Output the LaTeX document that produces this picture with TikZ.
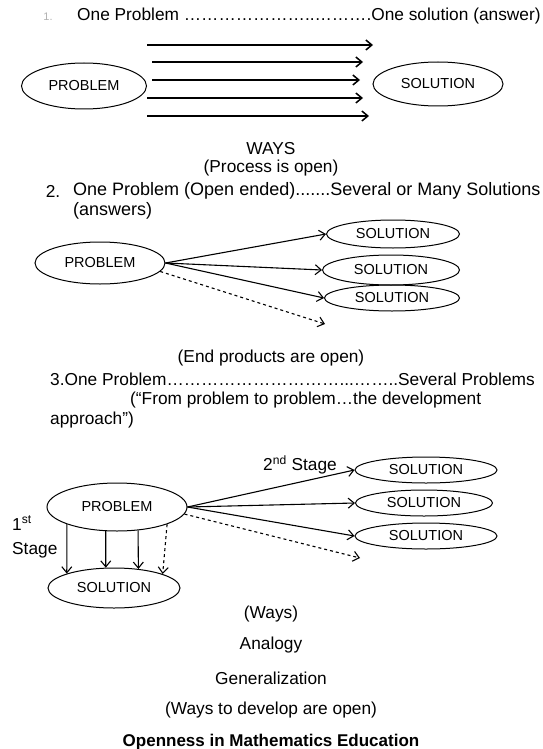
\documentclass[tikz,border=0pt]{standalone}
\usepackage{fontspec}
\setmainfont{Liberation Sans}
\usetikzlibrary{positioning,shapes.geometric,arrows.meta}
\newcommand{\manydots}[1]{\foreach \k in {1,...,#1}{…}}
\begin{document}
\begin{tikzpicture}[x=1pt,y=-1pt,
	oval/.style={
		ellipse,draw,line width=1pt,inner sep=0pt,
		font=\fontsize{14.5}{17}\selectfont},
	words/.style={
		inner sep=0pt,font=\fontsize{17.3}{20}\selectfont},
	tip/.style={
		->,>={Straight Barb[length=6pt,width=10pt]},line width=1.1pt},
	dtip/.style={
		tip,dashed}]
\useasboundingbox (0,0) rectangle (543,749);
% 1. one way in, one way out
\node[words,font=\fontsize{11}{13}\selectfont,text=black!30] (num a) at (48,17) {1.};
\node[words,anchor=west] (head a) at (77,16) {One Problem \manydots{7}..\manydots{3}.One solution (answer)};
\node[oval,minimum width=125,minimum height=46] (problem a) at (84,86) {PROBLEM};
\node[oval,minimum width=130,minimum height=44] (solution a) at (438,84) {SOLUTION};
\foreach \n/\y/\a/\b in {1/45/147/373,2/62/152/363,3/80/152/360,4/98/147/363,5/116/147/369}{
	\coordinate (way start \n) at (\a,\y);
	\coordinate (way end \n) at (\b,\y);
	\draw[tip,line width=1.5pt] (way start \n) -- (way end \n);
}
\node[words] (ways a) at (271,149) {WAYS};
\node[words] (open a) at (271,168) {(Process is open)};
% 2. open ended
\node[words] (num b) at (53,191) {2.};
\node[words,anchor=west,font=\fontsize{18}{20}\selectfont] (head b) at (73,191) {One Problem (Open ended).......Several or Many Solutions};
\node[words,anchor=west,font=\fontsize{18}{20}\selectfont] (head b2) at (73,211) {(answers)};
\node[oval,minimum width=130,minimum height=42] (problem b) at (100,263) {PROBLEM};
\node[oval,minimum width=133,minimum height=28] (solution b1) at (393,234) {SOLUTION};
\node[oval,minimum width=137,minimum height=30] (solution b2) at (391,270) {SOLUTION};
\node[oval,minimum width=135,minimum height=26] (solution b3) at (392,298) {SOLUTION};
\coordinate (more b) at (325,324);
\draw[tip] (problem b.east) -- (solution b1.west);
\draw[tip] (problem b.east) -- (solution b2.west);
\draw[tip] (problem b.east) -- (solution b3.west);
\draw[dtip] (problem b.-8) -- (more b);
\node[words] (open b) at (271,358) {(End products are open)};
% 3. problem to problem
\node[words,anchor=west] (head c) at (50,379) {3.One Problem\manydots{10}...\manydots{2}..Several Problems};
\node[words,anchor=west] (head c2) at (130,400) {(“From problem to problem…the development};
\node[words,anchor=west] (head c3) at (50,420) {approach”)};
\node[oval,minimum width=140,minimum height=48] (problem c) at (117,507) {PROBLEM};
\node[oval,minimum width=132,minimum height=40] (solution c) at (114,588) {SOLUTION};
\node[oval,minimum width=142,minimum height=26] (solution c1) at (426,470) {SOLUTION};
\node[oval,minimum width=137,minimum height=26] (solution c2) at (424,503) {SOLUTION};
\node[oval,minimum width=142,minimum height=26] (solution c3) at (426,536) {SOLUTION};
\coordinate (more c) at (360,558);
\draw[tip] (problem c.east) -- (solution c1.west);
\draw[tip] (problem c.east) -- (solution c2.west);
\draw[tip] (problem c.east) -- (solution c3.west);
\draw[dtip] (problem c.-6) -- (more c);
\draw[tip] (problem c.199) -- (solution c.163);
\draw[tip] (problem c.245) -- (solution c.112);
\draw[tip] (problem c.312) -- (solution c.38);
\draw[dtip] (problem c.341) -- (solution c.16);
\node[words] (stage two) at (300,465) {2\textsuperscript{nd} Stage};
\node[words,anchor=west] (stage one) at (12,523) {1\textsuperscript{st}};
\node[words,anchor=west] (stage one b) at (12,550) {Stage};
\node[words] (ways c) at (271,614) {(Ways)};
\node[words] (analogy) at (271,645) {Analogy};
\node[words] (general) at (271,678) {Generalization};
\node[words] (open c) at (271,710) {(Ways to develop are open)};
\node[words,font=\fontsize{17}{20}\selectfont\bfseries] (title) at (271,742) {Openness in Mathematics Education};
\end{tikzpicture}
\end{document}
